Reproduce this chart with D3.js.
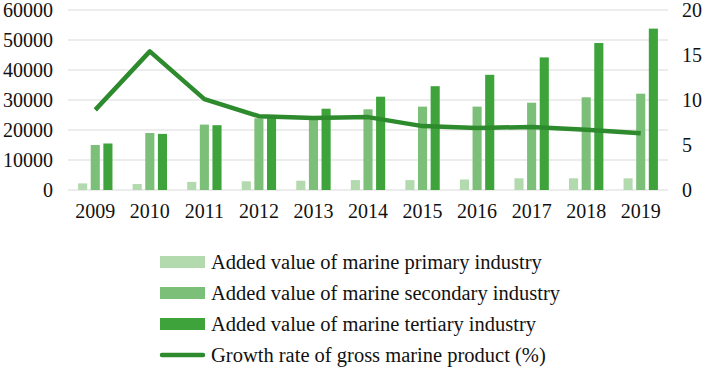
<!DOCTYPE html>
<html><head><meta charset="utf-8">
<script src="https://cdn.jsdelivr.net/npm/d3@7"></script>
<style>body{margin:0;background:#fff}svg{display:block}text{font-family:"Liberation Serif","Times New Roman",serif;fill:#111}</style>
</head><body><svg id="c" width="706" height="372"></svg>
<script>
const years = ["2009","2010","2011","2012","2013","2014","2015","2016","2017","2018","2019"];
const primary = [2200,2000,2700,2900,3100,3300,3300,3500,3900,3900,3900];
const secondary = [15000,19000,21800,23900,24000,26900,27800,27800,29100,30900,32100];
const tertiary = [15500,18700,21600,24000,27100,31100,34600,38400,44200,49000,53800];
const growth = [8.9,15.4,10.1,8.2,8.0,8.1,7.1,6.9,7.0,6.7,6.3];
const leftTicks = [0,10000,20000,30000,40000,50000,60000];
const rightTicks = [0,5,10,15,20];
const seriesNames = ["Added value of marine primary industry","Added value of marine secondary industry","Added value of marine tertiary industry","Growth rate of gross marine product (%)"];
const colors = ["#b3d9ae","#7cbf78","#3da33a","#2d8a2d"];

const svg = d3.select("#c");
const L=68, R=668, T=10, B=190;
const x = d3.scaleBand().domain(years).range([L,R]).paddingInner(0.37).paddingOuter(0.185);
const y = d3.scaleLinear().domain([0,60000]).range([B,T]);
const y2 = d3.scaleLinear().domain([0,20]).range([B,T]);
const sub = d3.scaleBand().domain([0,1,2]).range([0,x.bandwidth()]).paddingInner(0.28);

svg.append("g").selectAll("line").data(leftTicks).join("line")
  .attr("x1",L).attr("x2",R).attr("y1",d=>y(d)).attr("y2",d=>y(d))
  .attr("stroke","#d9d9d9").attr("stroke-width",1);

const axL = svg.append("g").attr("transform",`translate(${L},0)`).call(d3.axisLeft(y).tickValues(leftTicks).tickSize(0).tickPadding(15).tickFormat(d3.format("d")));
axL.select(".domain").remove();
const axR = svg.append("g").attr("transform",`translate(${R},0)`).call(d3.axisRight(y2).tickValues(rightTicks).tickSize(0).tickPadding(14));
axR.select(".domain").remove();
const axB = svg.append("g").attr("transform",`translate(0,${B})`).call(d3.axisBottom(x).tickSize(0).tickPadding(14));
axB.select(".domain").remove();
svg.selectAll(".tick text").attr("font-size",20).attr("font-family","Liberation Serif").attr("fill","#111");

const series=[primary,secondary,tertiary];
series.forEach((s,i)=>{
  svg.append("g").selectAll("rect").data(s).join("rect")
    .attr("x",(d,j)=>x(years[j])+sub(i)).attr("width",sub.bandwidth())
    .attr("y",d=>y(d)).attr("height",d=>B-y(d)).attr("fill",colors[i]);
});

const line=d3.line().x((d,i)=>x(years[i])+x.bandwidth()/2).y(d=>y2(d));
svg.append("path").datum(growth).attr("d",line).attr("fill","none")
  .attr("stroke",colors[3]).attr("stroke-width",4.5).attr("stroke-linejoin","round");

const lg = svg.append("g");
const rowsY=[262,293,324,355];
seriesNames.forEach((n,i)=>{
  if(i<3){
    lg.append("rect").attr("x",160).attr("y",rowsY[i]-6).attr("width",45).attr("height",12).attr("fill",colors[i]);
  } else {
    lg.append("line").attr("x1",162).attr("x2",203).attr("y1",rowsY[i]).attr("y2",rowsY[i])
      .attr("stroke",colors[3]).attr("stroke-width",4.5).attr("stroke-linecap","round");
  }
  lg.append("text").attr("x",211).attr("y",rowsY[i]).attr("dy","0.35em").attr("font-size",20.5).text(n);
});
</script></body></html>
